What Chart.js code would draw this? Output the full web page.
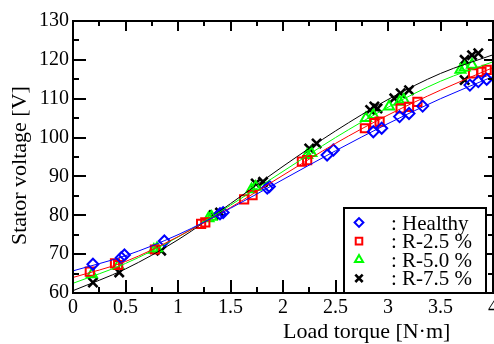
<!DOCTYPE html>
<html>
<head>
<meta charset="utf-8">
<script src="https://cdn.jsdelivr.net/npm/chart.js@4.4.1/dist/chart.umd.min.js"></script>
<style>
  html, body { margin: 0; padding: 0; background: #fff; }
  #wrap { width: 494px; height: 344px; }
</style>
</head>
<body>
<div id="wrap"><canvas id="voltageChart" width="494" height="344"></canvas></div>
<script>
// Measured points (load torque [N·m], stator voltage [V])
const healthyT = [0.19, 0.46, 0.49, 0.87, 1.40, 1.43, 1.85, 1.87, 2.42, 2.48, 2.86, 2.94, 3.11, 3.20, 3.33, 3.78, 3.86, 3.94];
const healthyV = [67.4, 69.1, 69.8, 73.4, 80.4, 80.7, 87.0, 87.4, 95.5, 96.8, 101.5, 102.4, 105.4, 106.2, 108.1, 113.5, 114.4, 115.0];

const r25T = [0.16, 0.40, 0.43, 0.78, 1.22, 1.26, 1.63, 1.71, 2.18, 2.23, 2.78, 2.87, 2.92, 3.12, 3.20, 3.28, 3.81, 3.89, 3.94];
const r25V = [65.5, 67.6, 67.2, 71.2, 77.8, 78.2, 84.1, 85.2, 93.8, 94.2, 102.4, 103.7, 104.1, 107.5, 107.9, 109.2, 116.5, 116.9, 117.4];

const r50T = [0.18, 0.43, 0.77, 0.80, 1.29, 1.32, 1.70, 1.74, 2.23, 2.27, 2.79, 2.86, 3.01, 3.11, 3.15, 3.69, 3.73, 3.80];
const r50V = [64.8, 67.0, 71.1, 71.5, 79.2, 79.6, 86.7, 87.3, 95.5, 96.0, 105.0, 105.8, 108.0, 109.2, 109.7, 117.4, 118.0, 118.7];

const r75T = [0.19, 0.44, 0.84, 1.34, 1.40, 1.74, 1.81, 2.25, 2.32, 2.83, 2.87, 2.90, 3.06, 3.12, 3.20, 3.73, 3.73, 3.80, 3.86];
const r75V = [62.7, 65.3, 70.9, 80.1, 80.7, 88.2, 88.6, 97.2, 98.5, 107.1, 108.0, 107.5, 110.1, 111.4, 112.2, 114.8, 120.0, 121.2, 121.7];

// Fitted curves at these torques
const fitT = [0, 0.5, 1, 1.5, 2, 2.5, 3, 3.5, 4];
const healthyFit = [65.7, 69.6, 75.0, 81.8, 89.2, 96.6, 103.6, 110.0, 115.7];
const r25Fit = [64.0, 68.1, 74.5, 82.0, 90.3, 98.5, 105.8, 112.2, 118.0];
const r50Fit = [62.5, 67.6, 74.4, 82.6, 91.3, 100.0, 107.8, 114.5, 119.5];
const r75Fit = [60.6, 66.2, 73.7, 83.0, 92.6, 101.7, 109.8, 116.5, 121.3];

const legendLabels = [': Healthy', ': R-2.5 %', ': R-5.0 %', ': R-7.5 %'];

// Axis ticks
const xTicks = [0, 0.5, 1, 1.5, 2, 2.5, 3, 3.5, 4];
const xMinorTicks = [0.25, 0.75, 1.25, 1.75, 2.25, 2.75, 3.25, 3.75];
const yTicks = [60, 70, 80, 90, 100, 110, 120, 130];
const yMinorTicks = [65, 75, 85, 95, 105, 115, 125];

const SERIF = '"Liberation Serif", "Times New Roman", serif';

const pairs = (xs, ys) => xs.map((x, i) => ({ x: x, y: ys[i] }));

const markers = [
    { color: '#0000ff', style: 'rectRot', radius: 5.5, width: 2 },
    { color: '#ff0000', style: 'rect', radius: 5.8, width: 2 },
    { color: '#00ff00', style: 'triangle', radius: 5.8, width: 2 },
    { color: '#000000', style: 'crossRot', radius: 6.5, width: 2.6 }
];
const pointSets = [pairs(healthyT, healthyV), pairs(r25T, r25V), pairs(r50T, r50V), pairs(r75T, r75V)];
const fitSets = [healthyFit, r25Fit, r50Fit, r75Fit];

const datasets = [];
fitSets.forEach((fit, i) => {
    datasets.push({
        type: 'line',
        data: pairs(fitT, fit),
        borderColor: markers[i].color,
        borderWidth: 1,
        pointRadius: 0,
        fill: false,
        cubicInterpolationMode: 'monotone'
    });
});
pointSets.forEach((pts, i) => {
    datasets.push({
        type: 'scatter',
        data: pts,
        showLine: false,
        pointStyle: markers[i].style,
        pointRadius: markers[i].radius,
        pointBorderWidth: markers[i].width,
        pointBorderColor: markers[i].color,
        pointBackgroundColor: 'rgba(0,0,0,0)'
    });
});

// Inward ticks on all four sides, frame, titles and the boxed legend
const framePlugin = {
    id: 'frame',
    afterDatasetsDraw(chart) {
        const { ctx, chartArea: a, scales: { x, y } } = chart;
        ctx.save();
        ctx.strokeStyle = '#000';
        ctx.lineWidth = 2;
        ctx.beginPath();
        const vTick = (v, lenB, lenT) => {
            const px = Math.round(x.getPixelForValue(v));
            ctx.moveTo(px, a.bottom); ctx.lineTo(px, a.bottom - lenB);
            ctx.moveTo(px, a.top); ctx.lineTo(px, a.top + lenT);
        };
        const hTick = (v, lenL, lenR) => {
            const py = Math.round(y.getPixelForValue(v));
            ctx.moveTo(a.left, py); ctx.lineTo(a.left + lenL, py);
            ctx.moveTo(a.right, py); ctx.lineTo(a.right - lenR, py);
        };
        xTicks.forEach(v => vTick(v, 13, 10));
        xMinorTicks.forEach(v => vTick(v, 6, 5));
        yTicks.forEach(v => hTick(v, 13, 9));
        yMinorTicks.forEach(v => hTick(v, 6, 5));
        ctx.stroke();
        ctx.strokeRect(a.left, a.top, a.right - a.left, a.bottom - a.top);

        // legend box
        const bx = 344, by = 208, bw = 142, bh = 85;
        ctx.fillStyle = '#fff';
        ctx.fillRect(bx, by, bw, bh);
        ctx.strokeRect(bx, by, bw, bh);
        ctx.font = '21px ' + SERIF;
        ctx.textAlign = 'left';
        ctx.textBaseline = 'alphabetic';
        legendLabels.forEach((label, i) => {
            const rowY = 222.5 + i * 18.6;
            const m = markers[i];
            ctx.strokeStyle = m.color;
            ctx.fillStyle = 'rgba(0,0,0,0)';
            ctx.lineWidth = m.width;
            Chart.helpers.drawPoint(ctx, {
                pointStyle: m.style,
                radius: m.radius * 0.8,
                rotation: 0,
                borderWidth: m.width
            }, 359, rowY);
            ctx.fillStyle = '#000';
            ctx.fillText(label, 391, rowY + 7);
        });

        // axis titles
        ctx.fillStyle = '#000';
        ctx.font = '22px ' + SERIF;
        ctx.textAlign = 'left';
        ctx.fillText('Load torque [N·m]', 283, 338);
        ctx.translate(26, 245);
        ctx.rotate(-Math.PI / 2);
        ctx.fillText('Stator voltage [V]', 0, 0);
        ctx.restore();
    }
};

new Chart(document.getElementById('voltageChart'), {
    type: 'scatter',
    data: { datasets: datasets },
    options: {
        responsive: false,
        animation: false,
        layout: { autoPadding: false, padding: { top: 21, right: 1, left: 0, bottom: 0 } },
        plugins: {
            legend: { display: false },
            tooltip: { enabled: false }
        },
        scales: {
            x: {
                type: 'linear',
                min: 0,
                max: 4,
                grid: { display: false, drawTicks: false },
                border: { display: false },
                afterBuildTicks: (s) => { s.ticks = xTicks.map(v => ({ value: v })); },
                afterFit: (s) => { s.height = 51; s.paddingLeft = 0; s.paddingRight = 0; },
                ticks: {
                    autoSkip: false,
                    maxRotation: 0,
                    padding: 3,
                    color: '#000',
                    font: { family: SERIF, size: 20 },
                    callback: (v) => String(v)
                }
            },
            y: {
                min: 60,
                max: 130,
                grid: { display: false, drawTicks: false },
                border: { display: false },
                afterBuildTicks: (s) => { s.ticks = yTicks.map(v => ({ value: v })); },
                afterFit: (s) => { s.width = 73; s.paddingTop = 0; s.paddingBottom = 0; },
                ticks: {
                    autoSkip: false,
                    padding: 4,
                    color: '#000',
                    font: { family: SERIF, size: 20 },
                    callback: (v) => String(v)
                }
            }
        }
    },
    plugins: [framePlugin]
});
</script>
</body>
</html>
